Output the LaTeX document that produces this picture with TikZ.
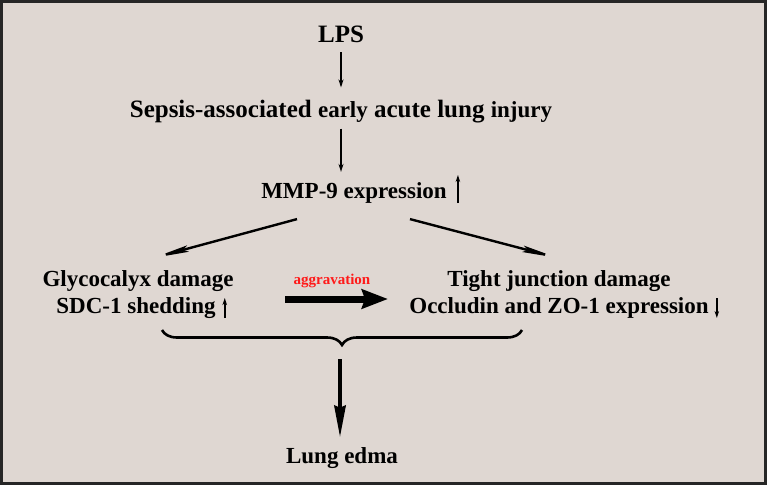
\documentclass[tikz,border=0pt]{standalone}
\usepackage{fontspec}
\setmainfont{Liberation Serif}
\usepackage{xcolor}
\usetikzlibrary{arrows.meta, positioning, calc, decorations.pathreplacing}
\definecolor{PaperBg}{HTML}{DFD7D2}
\definecolor{FrameDark}{HTML}{262626}
\definecolor{AggRed}{HTML}{FF1A1A}

\begin{document}
\begin{tikzpicture}[
    x=1pt, y=-1pt,
    lbl/.style={font=\fontsize{23}{27}\selectfont\bfseries, inner sep=0pt, anchor=base},
    biglbl/.style={lbl, font=\fontsize{25}{29}\selectfont\bfseries},
    aglbl/.style={lbl, font=\fontsize{15}{18}\selectfont\bfseries, AggRed},
    thinarr/.style={line width=1.6pt, -{Stealth[length=8pt, width=5pt]}},
    diagarr/.style={line width=2.4pt, -{Stealth[length=36pt, width=6.5pt, inset=5pt]}},
    tickarr/.style={line width=1.5pt, -{Stealth[length=7pt, width=4.5pt]}},
    fatarr/.style={line width=7pt, -{Stealth[length=26pt, width=19pt, inset=3pt]}},
    downarr/.style={line width=4.5pt, -{Stealth[length=32pt, width=11pt, inset=2pt]}},
    brc/.style={line width=2.6pt, decorate, decoration={brace, mirror, amplitude=15pt}}
]
% canvas and frame
\useasboundingbox (0,0) rectangle (767,485);
\fill[PaperBg] (0,0) rectangle (767,485);
\draw[FrameDark, line width=3pt] (1.5,1.5) rectangle (765.5,483.5);

% --- top chain ---
\node[biglbl] (lps) at (341,42) {LPS};
\node[biglbl] (sepsis) at (341,117) {Sepsis-associated
  {\fontsize{23}{27}\selectfont early} acute lung
  {\fontsize{23}{27}\selectfont injury}};
\node[lbl] (mmp) at (354,198) {MMP-9 expression};
\draw[tickarr] ([xshift=11pt, yshift=-5pt]mmp.base east) -- ([xshift=11pt, yshift=23pt]mmp.base east);

\draw[thinarr] ([yshift=-10pt]lps.south) -- ([yshift=12pt]sepsis.north);
\draw[thinarr] ([yshift=-6pt]sepsis.south) -- ([yshift=10pt]sepsis.south |- mmp.north);

% --- two branches ---
\node[lbl] (glyco) at (138,286) {Glycocalyx damage};
\node[lbl] (sdc) at (136,313) {SDC-1 shedding};
\draw[tickarr] ([xshift=9pt, yshift=-5pt]sdc.base east) -- ([xshift=9pt, yshift=15pt]sdc.base east);

\node[lbl] (tight) at (559,286) {Tight junction damage};
\node[lbl] (occl) at (559,313) {Occludin and ZO-1 expression};
\draw[tickarr] ([xshift=8pt, yshift=15pt]occl.base east) -- ([xshift=8pt, yshift=-5pt]occl.base east);

\coordinate (gtip) at (153,258);
\coordinate (ttip) at (558,258);
\draw[diagarr] ([xshift=-57pt, yshift=-16pt]mmp.south) -- (gtip);
\draw[diagarr] ([xshift=56pt, yshift=-16pt]mmp.south) -- (ttip);

% aggravation
\coordinate (agl) at (285,299);
\coordinate (agr) at (388,299);
\draw[fatarr] (agl) -- (agr);
\node[aglbl] (agg) at (332,284) {aggravation};

% --- brace and outcome ---
\coordinate (bl) at (162,330);
\coordinate (br) at (522,330);
\draw[brc] (bl) -- (br);
\node[lbl] (edema) at (342,463) {Lung edma};
\draw[downarr] (340,359) -- ([yshift=9pt]edema.north -| 340,0);
\end{tikzpicture}
\end{document}
